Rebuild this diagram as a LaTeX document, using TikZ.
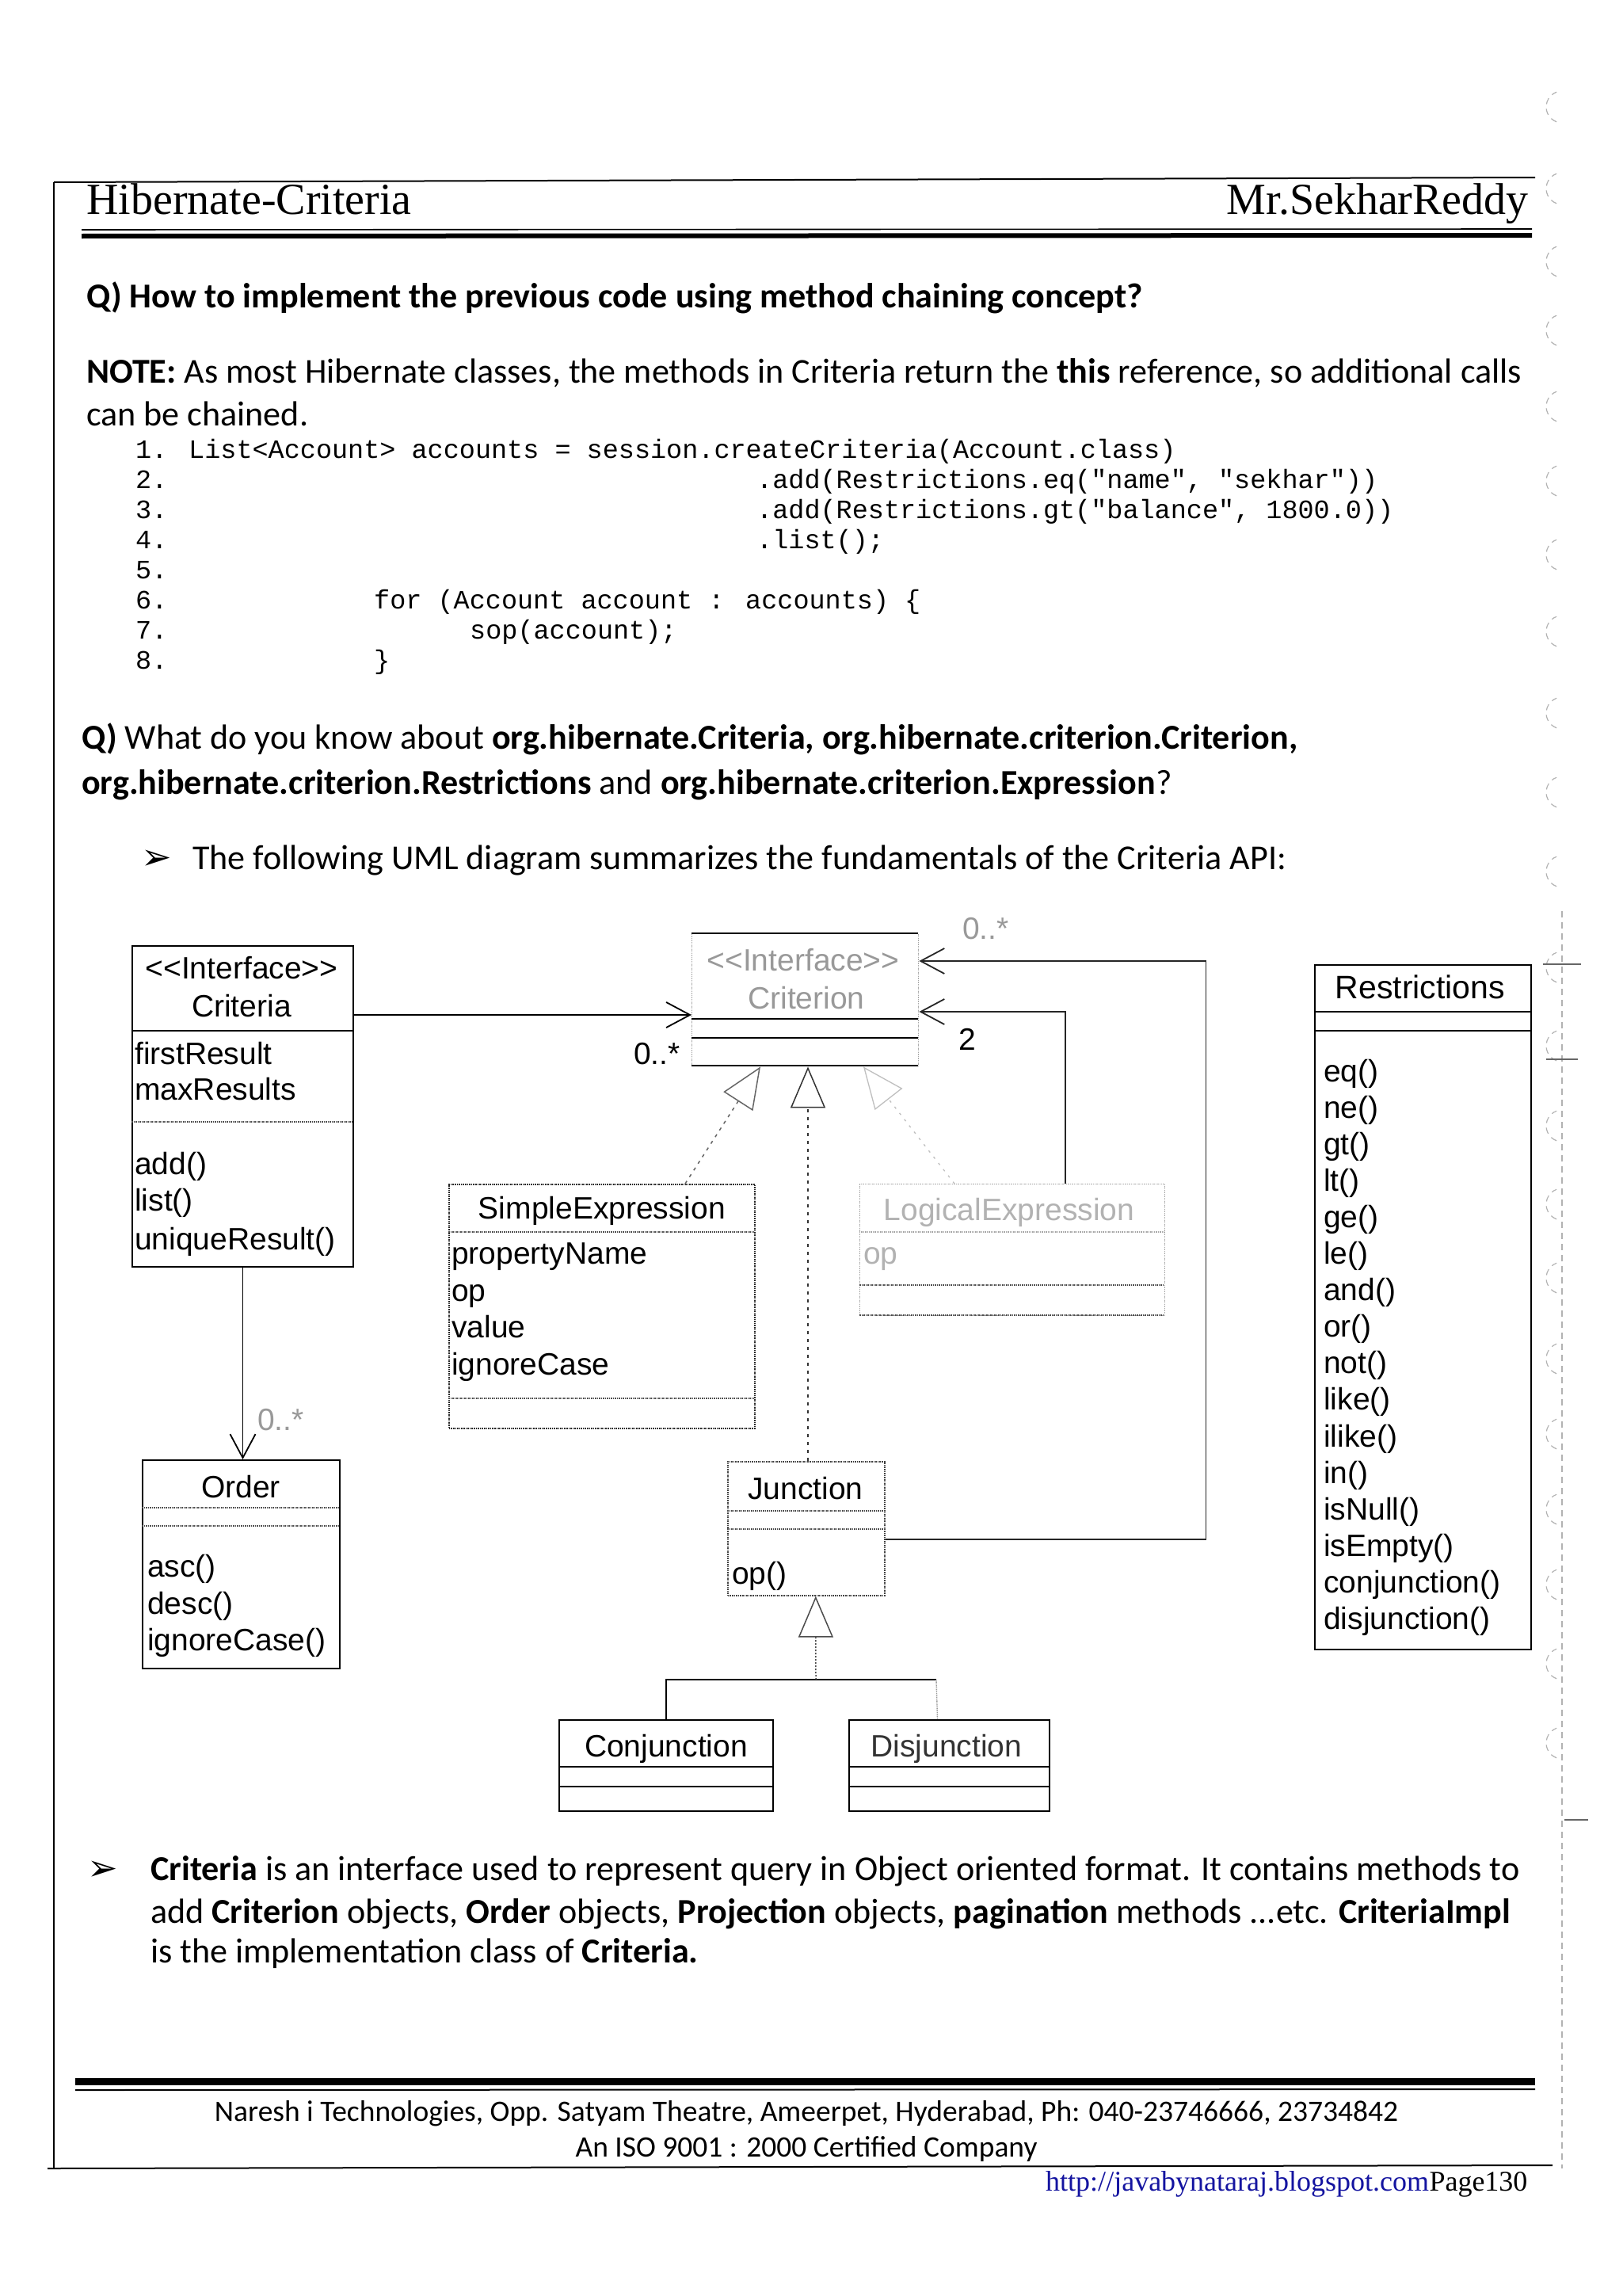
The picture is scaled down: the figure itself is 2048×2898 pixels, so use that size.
\documentclass[tikz,border=0pt]{standalone}
\usepackage{fontspec}
\setmainfont{Carlito}
\newfontfamily\umlf{Liberation Sans}
\newfontfamily\codef{Liberation Mono}[Ligatures=TeXOff]
\newfontfamily\hdrf{Liberation Serif}
\newfontfamily\symf{DejaVu Sans}
\usetikzlibrary{arrows.meta,calc}
\begin{document}
\begin{tikzpicture}[x=1pt,y=-1pt,
 txt/.style={anchor=base west,inner sep=0pt,font=\fontsize{44.1}{52}\selectfont},
 ftxt/.style={anchor=base,inner sep=0pt,font=\fontsize{37.5}{45}\selectfont},
 hdr/.style={inner sep=0pt,font=\hdrf\fontsize{56}{64}\selectfont},
 codet/.style={anchor=base west,inner sep=0pt,font=\codef\fontsize{33.5}{40}\selectfont},
 umlt/.style={anchor=base west,inner sep=0pt,font=\umlf\fontsize{39}{46}\selectfont},
 umlc/.style={umlt,anchor=base},
 faint/.style={text=black!40},
 bul/.style={anchor=base west,inner sep=0pt,font=\symf\fontsize{46}{50}\selectfont},
 cbox/.style={draw=black,line width=2pt,anchor=north west,inner sep=0pt},
 dbox/.style={draw=black!75,line width=1.6pt,densely dotted,anchor=north west,inner sep=0pt},
 fbox/.style={draw=black!35,line width=1.4pt,densely dotted,anchor=north west,inner sep=0pt},
 sep/.style={draw=black,line width=2pt},
 dsep/.style={draw=black!70,line width=1.5pt,densely dotted},
 fsep/.style={draw=black!35,line width=1.4pt,densely dotted},
 assoc/.style={draw=black,line width=1.8pt,-{Straight Barb[length=30pt,width=32pt,line width=1.8pt]}},
 inh/.style={draw=black!60,line width=1.5pt,dash pattern=on 4pt off 6pt,-{Triangle[open,length=52pt,width=44pt,line width=1.5pt]}},
 inhf/.style={draw=black!25,line width=1.3pt,dash pattern=on 3pt off 7pt,-{Triangle[open,length=52pt,width=44pt,line width=1.3pt]}},
 frame/.style={draw=black,line width=2pt},
 binder/.style={draw=black!30,line width=1.2pt,dash pattern=on 8pt off 6pt}
]
\useasboundingbox (0,0) rectangle (2048,2898);
\fill[white] (0,0) rectangle (2048,2898);

% ---------- page frame ----------
\draw[frame] (68,230) -- (1938,224);
\draw[frame] (68,230) -- (68,2737);
\draw[frame] (60,2737) -- (1960,2733);
\draw[draw=black,line width=1.6pt] (103,290) -- (1934,289);
\draw[draw=black,line width=6pt] (103,298) -- (1934,297);
\draw[draw=black,line width=9pt] (95,2627) -- (1938,2627);
\draw[draw=black,line width=2pt] (95,2638) -- (1938,2637);
\draw[binder] (1972,1150) -- (1972,2737);
\foreach \yy in {135,238,330,417,513,607,700,797,900,1000,1100,1221,1320,1421,1520,1613,1715,1810,1905,2000,2100,2200}
  \draw[binder] ([shift={(110:20)}]1972,\yy) arc[start angle=110,end angle=250,radius=20];
\draw[draw=black!60,line width=1.6pt] (1948,1217) -- (1996,1217);
\draw[draw=black!60,line width=1.6pt] (1952,1337) -- (1992,1337);
\draw[draw=black!60,line width=1.6pt] (1975,2297) -- (2005,2297);

% ---------- header ----------
\node[hdr,anchor=base west] (h1) at (109,270) {Hibernate-Criteria};
\node[hdr,anchor=base east] (h2) at (1930,270) {Mr.SekharReddy};

% ---------- question 1 ----------
\node[txt] (q1) at (109,388) {\textbf{Q) How to implement the previous code using method chaining concept?}};
\node[txt] (n1) at (109,483) {\textbf{NOTE:} As most Hibernate classes, the methods in Criteria return the \textbf{this} reference, so additional calls};
\node[txt] (n2) at (109,537) {can be chained.};

% ---------- code ----------
\node[codet] (c1) at (171,578) {1. List<Account> accounts = session.createCriteria(Account.class)};
\node[codet] (c2n) at (171,616) {2.};
\node[codet] (c2) at (955,616) {.add(Restrictions.eq("name", "sekhar"))};
\node[codet] (c3n) at (171,654) {3.};
\node[codet] (c3) at (955,654) {.add(Restrictions.gt("balance", 1800.0))};
\node[codet] (c4n) at (171,692) {4.};
\node[codet] (c4) at (955,692) {.list();};
\node[codet] (c5n) at (171,730) {5.};
\node[codet] (c6n) at (171,768) {6.};
\node[codet] (c6) at (472,768) {for (Account account : accounts) \{};
\node[codet] (c7n) at (171,806) {7.};
\node[codet] (c7) at (593,806) {sop(account);};
\node[codet] (c8n) at (171,844) {8.};
\node[codet] (c8) at (472,844) {\}};

% ---------- question 2 ----------
\node[txt] (q2a) at (103,945) {\textbf{Q)} What do you know about \textbf{org.hibernate.Criteria, org.hibernate.criterion.Criterion,}};
\node[txt] (q2b) at (103,1002) {\textbf{org.hibernate.criterion.Restrictions} and \textbf{org.hibernate.criterion.Expression}?};
\node[bul] (b1) at (178,1097) {➢};
\node[txt] (b1t) at (243,1097) {The following UML diagram summarizes the fundamentals of the Criteria API:};

% ---------- UML boxes ----------
% Criteria
\node[cbox,minimum width=279pt,minimum height=405pt] (criteria) at (166,1193) {};
\draw[sep] (166,1301) -- (445,1301);
\draw[dsep] (166,1416) -- (445,1416);
\node[umlc] (cr1) at (305,1235) {<<Interface>>};
\node[umlc] (cr2) at (305,1283) {Criteria};
\node[umlt] (cr3) at (170,1343) {firstResult};
\node[umlt] (cr4) at (170,1388) {maxResults};
\node[umlt] (cr5) at (170,1482) {add()};
\node[umlt] (cr6) at (170,1528) {list()};
\node[umlt] (cr7) at (170,1577) {uniqueResult()};

% Criterion
\node[fbox,minimum width=286pt,minimum height=167pt] (criterion) at (873,1178) {};
\draw[sep] (873,1178) -- (1159,1178);
\draw[sep] (873,1286) -- (1159,1286);
\draw[sep,line width=1.6pt] (873,1310) -- (1159,1310);
\draw[sep,line width=1.6pt] (873,1345) -- (1159,1345);
\node[umlc,faint] (ct1) at (1014,1225) {<<Interface>>};
\node[umlc,faint] (ct2) at (1018,1273) {Criterion};

% SimpleExpression
\node[dbox,draw=black!85,minimum width=386pt,minimum height=308pt] (simple) at (566,1494) {};
\draw[dsep] (566,1555) -- (952,1555);
\draw[dsep] (566,1765) -- (952,1765);
\node[umlc] (se0) at (760,1538) {SimpleExpression};
\node[umlt] (se1) at (570,1595) {propertyName};
\node[umlt] (se2) at (570,1642) {op};
\node[umlt] (se3) at (570,1688) {value};
\node[umlt] (se4) at (570,1735) {ignoreCase};

% LogicalExpression
\node[fbox,minimum width=385pt,minimum height=166pt] (logexp) at (1085,1494) {};
\draw[fsep] (1085,1555) -- (1470,1555);
\draw[dsep] (1085,1622) -- (1470,1622);
\draw[dsep] (1085,1660) -- (1470,1660);
\node[umlc,text=black!30] (le0) at (1274,1540) {LogicalExpression};
\node[umlt,text=black!30] (le1) at (1090,1595) {op};

% Junction
\node[dbox,minimum width=198pt,minimum height=169pt] (junction) at (918,1844) {};
\draw[dsep] (918,1907) -- (1116,1907);
\draw[dsep] (918,1930) -- (1116,1930);
\node[umlc] (ju0) at (1017,1892) {Junction};
\node[umlt] (ju1) at (924,1999) {op()};

% Conjunction / Disjunction
\node[cbox,line width=2.4pt,minimum width=270pt,minimum height=115pt] (conj) at (705,2170) {};
\draw[sep,line width=2.4pt] (705,2230) -- (975,2230);
\draw[sep,line width=2.4pt] (705,2255) -- (975,2255);
\node[umlc] (co0) at (841,2217) {Conjunction};
\node[cbox,minimum width=253pt,minimum height=115pt] (disj) at (1071,2170) {};
\draw[sep] (1071,2230) -- (1324,2230);
\draw[sep] (1071,2255) -- (1324,2255);
\node[umlc,text=black!80] (di0) at (1195,2217) {Disjunction};

% Order
\node[cbox,line width=1.8pt,minimum width=249pt,minimum height=263pt] (order) at (179,1842) {};
\draw[dsep] (179,1903) -- (428,1903);
\draw[dsep] (179,1926) -- (428,1926);
\node[umlc] (or0) at (304,1890) {Order};
\node[umlt] (or1) at (186,1990) {asc()};
\node[umlt] (or2) at (186,2037) {desc()};
\node[umlt] (or3) at (186,2083) {ignoreCase()};

% Restrictions
\node[cbox,minimum width=273pt,minimum height=864pt] (restr) at (1659,1217) {};
\draw[sep] (1659,1277) -- (1932,1277);
\draw[sep] (1659,1301) -- (1932,1301);
\node[umlc,font=\umlf\fontsize{41}{48}\selectfont] (re0) at (1793,1260) {Restrictions};
\foreach \m [count=\i from 0] in {eq(),ne(),gt(),lt(),ge(),le(),and(),or(),not(),like(),ilike(),in(),isNull(),isEmpty(),conjunction(),disjunction()}
  \node[umlt] (r\i) at (1671,{1365+46.1*\i}) {\m};

% ---------- connectors ----------
\draw[assoc] ([yshift=-88pt]criteria.north east) -- ([yshift=-103pt]criterion.north west);
\node[umlt] (m1) at (800,1343) {0..*};
\draw[assoc] (criteria.south) -- (criteria.south |- order.north);
\node[umlt,faint] (m2) at (325,1805) {0..*};
\draw[assoc,draw=black!85] ([yshift=-99pt]junction.north east) -| ([xshift=362pt,yshift=-35pt]criterion.north east) -- ([yshift=-35pt]criterion.north east);
\node[umlt,faint] (m3) at (1215,1185) {0..*};
\draw[assoc,draw=black!85] ([xshift=260pt]logexp.north west) |- ([yshift=-99pt]criterion.north east);
\node[umlt] (m4) at (1210,1325) {2};
\draw[inh] ([xshift=299pt]simple.north west) -- ([xshift=87pt]criterion.south west);
\draw[inh,draw=black!80] ([xshift=102pt]junction.north west) -- ([xshift=147pt]criterion.south west);
\draw[inhf] ([xshift=120pt]logexp.north west) -- ([xshift=217pt]criterion.south west);
\coordinate (jn) at (1030,2120);
\draw[draw=black,line width=2pt] (conj.north) |- (jn);
\draw[draw=black,line width=2pt] (jn) -- (1182,2120);
\draw[draw=black!40,line width=1.4pt,densely dotted] (1182,2120) -- ([xshift=-15pt]disj.north);
\draw[inh,draw=black!70,dash pattern=on 2pt off 2pt] (jn) -- ([xshift=12pt]junction.south);

% ---------- bottom text ----------
\node[bul] (b2) at (110,2373) {➢};
\node[txt] (p1) at (190,2373) {\textbf{Criteria} is an interface used to represent query in Object oriented format. It contains methods to};
\node[txt] (p2) at (190,2427) {add \textbf{Criterion} objects, \textbf{Order} objects, \textbf{Projection} objects, \textbf{pagination} methods ...etc. \textbf{CriteriaImpl}};
\node[txt] (p3) at (190,2477) {is the implementation class of \textbf{Criteria.}};

% ---------- footer ----------
\node[ftxt] (f1) at (1018,2677) {Naresh i Technologies, Opp. Satyam Theatre, Ameerpet, Hyderabad, Ph: 040-23746666, 23734842};
\node[ftxt] (f2) at (1018,2722) {An ISO 9001 : 2000 Certified Company};
\node[anchor=base west,inner sep=0pt,font=\hdrf\fontsize{36}{42}\selectfont,text={rgb,255:red,20;green,20;blue,160}] (url) at (1320,2765) {http://javabynataraj.blogspot.com};
\node[anchor=base west,inner sep=0pt,font=\hdrf\fontsize{36}{42}\selectfont] (pg) at (url.base east) {Page130};
\end{tikzpicture}
\end{document}
